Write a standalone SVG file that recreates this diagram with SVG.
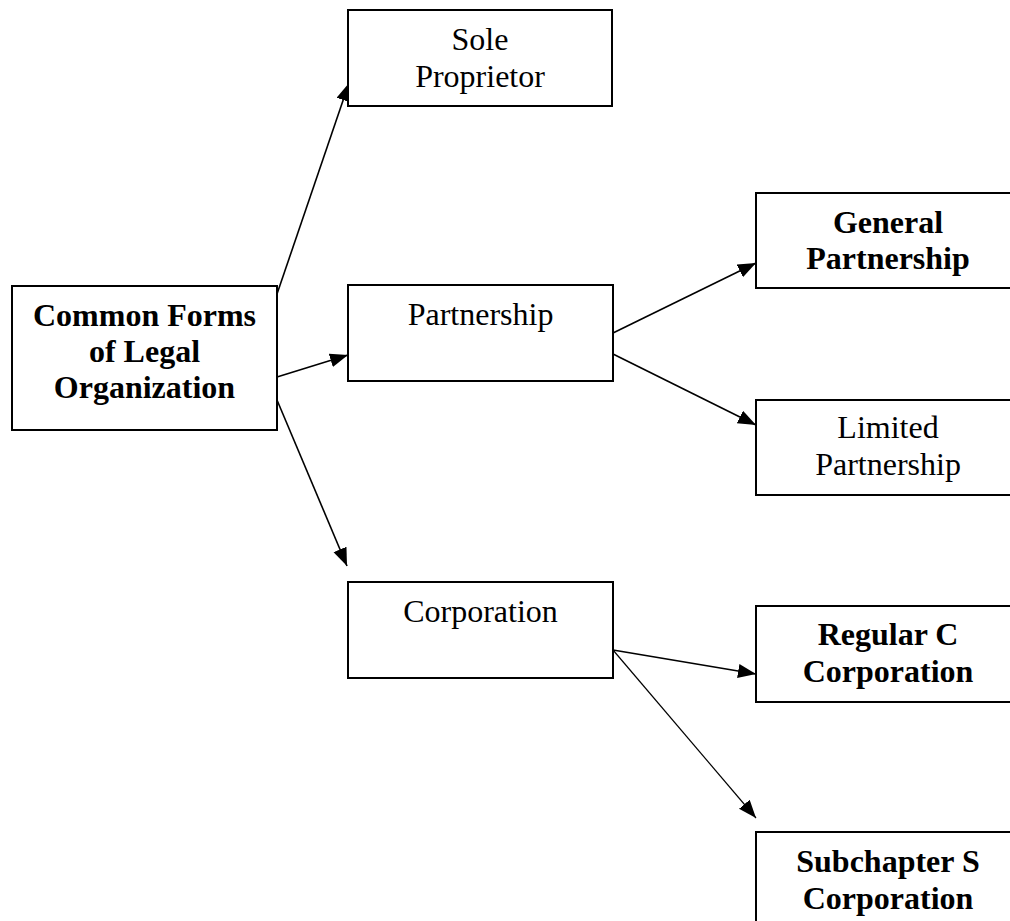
<svg xmlns="http://www.w3.org/2000/svg" width="1010" height="921" viewBox="0 0 1010 921">
<style>
.box{fill:#fff;stroke:#000;stroke-width:2}
.t{font-family:"Liberation Serif","Times New Roman",serif;font-size:32px;fill:#000;text-anchor:middle}
.b{font-weight:bold}
.c{stroke:#000;stroke-width:1.6;fill:none;marker-end:url(#ah)}
</style>
<defs>
<marker id="ah" markerUnits="userSpaceOnUse" markerWidth="20" markerHeight="16" refX="18" refY="7" orient="auto">
<path d="M0,0 L18,7 L0,14 z" fill="#000"/>
</marker>
</defs>
<rect width="1010" height="921" fill="#fff"/>
<g id="connectors">
<line class="c" x1="277" y1="294" x2="349" y2="83"/>
<line class="c" x1="277" y1="377" x2="348" y2="355"/>
<line class="c" x1="277" y1="400" x2="347" y2="566"/>
<line class="c" x1="613" y1="333" x2="756" y2="263"/>
<line class="c" x1="613" y1="354" x2="756" y2="425"/>
<line class="c" x1="613" y1="650" x2="756" y2="674"/>
<line class="c" x1="613" y1="650" x2="756" y2="818" style="stroke-width:1.2"/>
</g>
<g id="main">
<rect class="box" x="12" y="286" width="265" height="144"/>
<text class="t b" x="144.5" y="326">Common Forms</text>
<text class="t b" x="144.5" y="362">of Legal</text>
<text class="t b" x="144.5" y="398">Organization</text>
</g>
<g id="sole">
<rect class="box" x="348" y="10" width="264" height="96"/>
<text class="t" x="480" y="50">Sole</text>
<text class="t" x="480" y="87">Proprietor</text>
</g>
<g id="partnership">
<rect class="box" x="348" y="285" width="265" height="96"/>
<text class="t" x="480.5" y="325">Partnership</text>
</g>
<g id="corporation">
<rect class="box" x="348" y="582" width="265" height="96"/>
<text class="t" x="480.5" y="622">Corporation</text>
</g>
<g id="general">
<rect class="box" x="756" y="193" width="264" height="95"/>
<text class="t b" x="888" y="233">General</text>
<text class="t b" x="888" y="269">Partnership</text>
</g>
<g id="limited">
<rect class="box" x="756" y="400" width="264" height="95"/>
<text class="t" x="888" y="438">Limited</text>
<text class="t" x="888" y="475">Partnership</text>
</g>
<g id="regular">
<rect class="box" x="756" y="606" width="264" height="96"/>
<text class="t b" x="888" y="645">Regular C</text>
<text class="t b" x="888" y="682">Corporation</text>
</g>
<g id="subchapter">
<rect class="box" x="756" y="832" width="264" height="96"/>
<text class="t b" x="888" y="872">Subchapter S</text>
<text class="t b" x="888" y="909">Corporation</text>
</g>
</svg>
